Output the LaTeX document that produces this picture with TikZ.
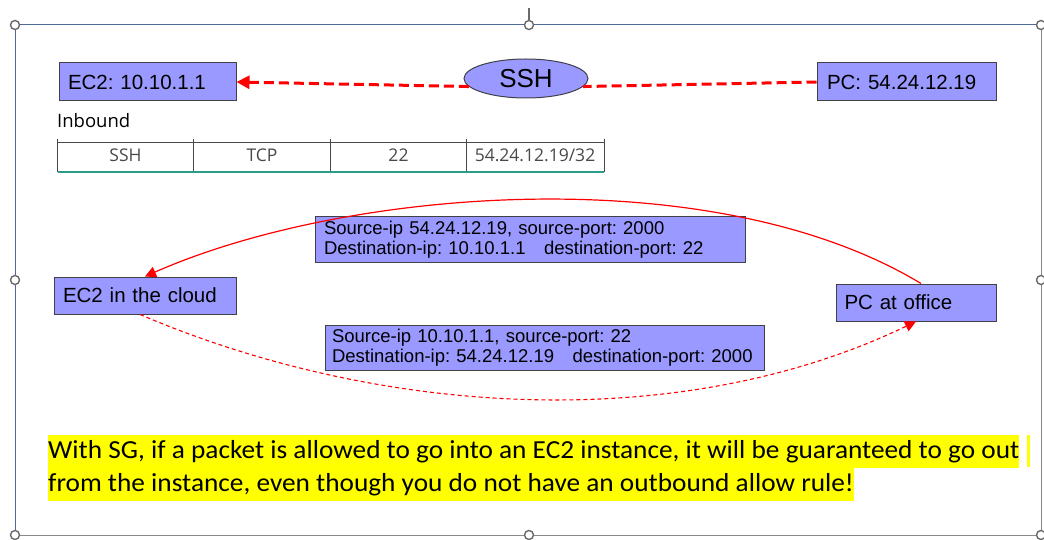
\documentclass[tikz,border=0pt]{standalone}
\usepackage{fontspec}
\setmainfont{Liberation Sans}
\newfontfamily\calfont[FakeStretch=1.05]{Carlito}
\newfontfamily\opfont{Open Sans}
\usetikzlibrary{arrows.meta,shapes.geometric}
\definecolor{boxblue}{HTML}{9999FF}
\definecolor{boxedge}{HTML}{404048}
\definecolor{frameblue}{HTML}{4F6A96}
\definecolor{framegray}{HTML}{8A8A8A}
\definecolor{handlegray}{HTML}{6A6A6A}
\definecolor{tablegray}{HTML}{484848}
\definecolor{teal}{HTML}{2E9C8A}
\definecolor{hl}{HTML}{FFFF00}
\frenchspacing
\begin{document}
\begin{tikzpicture}[x=1pt,y=-1pt,
  box/.style={draw=boxedge, fill=boxblue, line width=1pt, rectangle, inner ysep=0pt,
    align=left, font=\fontsize{20.5}{24}\selectfont},
  packetbox/.style={draw=boxedge, fill=boxblue, line width=1pt, rectangle, inner ysep=0pt,
    align=left, font=\fontsize{18.5}{20.5}\selectfont},
  handle/.style={circle, draw=handlegray, fill=white, line width=1.4pt, minimum size=9pt, inner sep=0pt},
  cell/.style={font=\opfont\fontsize{17.5}{20}\selectfont, text=tablegray, anchor=base},
  hlline/.style={fill=hl, inner sep=0pt, text height=23pt, text depth=10pt, anchor=base west,
    font=\calfont\fontsize{26}{33}\selectfont},
  bigdash/.style={red, line width=3pt, dash pattern=on 10pt off 5pt},
  tip/.style={-{Triangle[length=11pt,width=11pt]}}
]
\useasboundingbox (0,0) rectangle (1044,540);

% selection frame
\draw[framegray, line width=1pt] (1041,25) -- (1041,535) -- (15,535);
\draw[frameblue, line width=1pt] (15,535) -- (15,25) -- (1041,25);
\draw[handlegray, line width=1.2pt] (529,8) -- (529,21);
\node[handle] (h1) at (15,25) {};
\node[handle] (h2) at (529,25) {};
\node[handle] (h3) at (1041,25) {};
\node[handle] (h4) at (15,280) {};
\node[handle] (h5) at (1041,280) {};
\node[handle] (h6) at (15,535) {};
\node[handle] (h7) at (529,535) {};
\node[handle] (h8) at (1041,535) {};

% top row
\node[box, minimum height=38pt, text width=159pt, inner xsep=9pt] (ec2top) at (147.5,82) {EC2: 10.10.1.1};
\node[box, minimum height=38pt, text width=159pt, inner xsep=10pt] (pctop) at (906.5,82) {PC: 54.24.12.19};
\node[ellipse, draw=boxedge, fill=boxblue, line width=1pt, minimum width=124pt, minimum height=39pt, inner sep=0pt,
  font=\fontsize{26}{30}\selectfont] (ssh) at (526,78.5) {SSH};
\draw[bigdash, -{Triangle[length=13pt,width=13pt]}] (ssh.188) -- (ec2top.east);
\draw[bigdash] (pctop.west) -- (ssh.-8);

% inbound table
\node[anchor=base west, font=\opfont\fontsize{18.5}{20}\selectfont, inner sep=0pt] (inb) at (57,128) {Inbound};
\draw[tablegray, line width=0.8pt] (57.5,142) -- (604,142);
\foreach \x in {57.5,193.5,330.5,466.5,604} \draw[tablegray, line width=0.9pt] (\x,139) -- (\x,172);
\draw[teal, line width=2pt] (57.5,172) -- (604,172);
\node[cell] (c1) at (125.5,162) {SSH};
\node[cell] (c2) at (262,162) {TCP};
\node[cell] (c3) at (398.5,162) {22};
\node[cell] (c4) at (535,162) {54.24.12.19/32};

% middle
\node[box, minimum height=37pt, text width=164pt, inner xsep=9pt] (ec2c) at (145,295.5) {EC2 in the cloud};
\node[box, minimum height=37pt, text width=143pt, inner xsep=8.5pt] (pcoff) at (916,302.5) {PC at office};
\node[packetbox, minimum height=45pt, text width=412pt, inner xsep=9pt] (p1) at (530,239.5)
  {\mbox{Source-ip 54.24.12.19, source-port: 2000}\\\mbox{Destination-ip: 10.10.1.1\ \ \ destination-port: 22}};
\node[packetbox, minimum height=45pt, text width=425pt, inner xsep=7pt] (p2) at (544.5,347.5)
  {\mbox{Source-ip 10.10.1.1, source-port: 22}\\\mbox{Destination-ip: 54.24.12.19\ \ \ destination-port: 2000}};

\draw[red, line width=1.2pt, tip] ([xshift=5pt]pcoff.north) .. controls (713,158) and (345,188) .. (ec2c.north);
\draw[red, line width=1.1pt, dash pattern=on 4pt off 3pt, tip] ([xshift=-5pt]ec2c.south) .. controls (380,417) and (680,435) .. (pcoff.south);

% note
\node[hlline] (n1) at (48,458) {With SG, if a packet is allowed to go into an EC2 instance, it will be guaranteed to go out\ };
\node[hlline] (n2) at (48,491) {from the instance, even though you do not have an outbound allow rule!};
\fill[hl] (1027,435) rectangle (1030,467);
\end{tikzpicture}
\end{document}
